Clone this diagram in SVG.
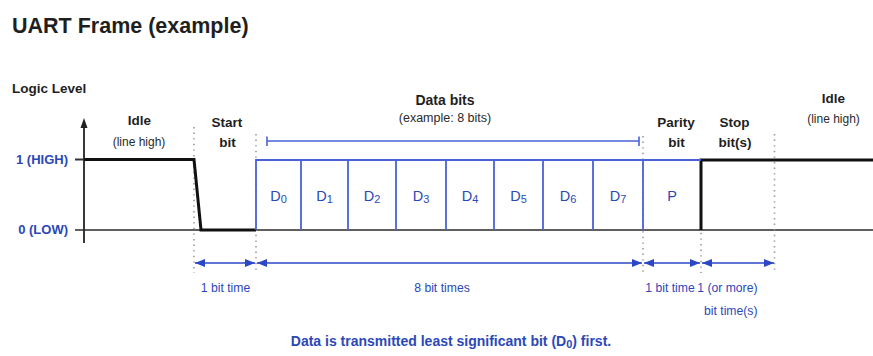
<svg xmlns="http://www.w3.org/2000/svg" width="873" height="356" viewBox="0 0 873 356">
  <style>
    text { font-family: "Liberation Sans", Arial, sans-serif; }
    .title { font-size: 21.5px; font-weight: bold; fill: #1f1f1f; }
    .axis-title { font-size: 13.5px; font-weight: bold; fill: #1f1f1f; }
    .lbl { font-size: 13.5px; font-weight: bold; fill: #1f1f1f; text-anchor: middle; }
    .sub { font-size: 12px; fill: #2a2a2a; text-anchor: middle; }
    .level { font-size: 13px; font-weight: bold; fill: #2b48b8; text-anchor: end; }
    .bit { font-size: 14.5px; fill: #2b48b8; text-anchor: middle; }
    .bit tspan.s { font-size: 11px; }
    .dim { font-size: 12.2px; fill: #2b48b8; text-anchor: middle; }
    .note { font-size: 14px; font-weight: bold; fill: #2b48b8; text-anchor: middle; }
    .sig { fill: none; stroke: #111; stroke-width: 3; stroke-linejoin: miter; }
    .base { stroke: #2a2a2a; stroke-width: 1.6; }
    .cell { fill: none; stroke: #4a62d8; stroke-width: 1.8; }
    .guide { stroke: #9a9a9a; stroke-width: 1.6; stroke-dasharray: 1.4 4.2; }
    .span { stroke: #2c47c6; stroke-width: 1.4; marker-start: url(#arrowL); marker-end: url(#arrowR); }
    .bracket { stroke: #4a62d8; stroke-width: 1.6; fill: none; }
  </style>
  <defs>
    <marker id="arrowR" viewBox="0 0 10 8" refX="10" refY="4" markerWidth="10" markerHeight="8" markerUnits="userSpaceOnUse" orient="auto">
      <path d="M0,0 L10,4 L0,8 Z" fill="#2c47c6"/>
    </marker>
    <marker id="arrowL" viewBox="0 0 10 8" refX="0" refY="4" markerWidth="10" markerHeight="8" markerUnits="userSpaceOnUse" orient="auto">
      <path d="M10,0 L0,4 L10,8 Z" fill="#2c47c6"/>
    </marker>
  </defs>

  <rect width="873" height="356" fill="#ffffff"/>

  <text class="title" x="12" y="33">UART Frame (example)</text>
  <text class="axis-title" x="12" y="93">Logic Level</text>

  <!-- vertical axis with level ticks -->
  <g id="axis">
    <line x1="84" y1="126" x2="84" y2="243" stroke="#222" stroke-width="1.8"/>
    <path d="M84,118 L80.5,128 L87.5,128 Z" fill="#222"/>
    <line x1="75" y1="159.5" x2="84" y2="159.5" stroke="#333" stroke-width="2"/>
    <line class="base" x1="75" y1="230" x2="873" y2="230"/>
    <text class="level" x="68" y="164">1 (HIGH)</text>
    <text class="level" x="68" y="234">0 (LOW)</text>
  </g>

  <!-- field boundaries -->
  <g id="guides">
    <line class="guide" x1="194" y1="127" x2="194" y2="273"/>
    <line class="guide" x1="256" y1="134" x2="256" y2="273"/>
    <line class="guide" x1="643" y1="136" x2="643" y2="273"/>
    <line class="guide" x1="701" y1="160" x2="701" y2="273"/>
    <line class="guide" x1="774.5" y1="134" x2="774.5" y2="273"/>
  </g>

  <!-- idle + start bit + stop/idle drive levels -->
  <g id="signal">
    <path class="sig" d="M84,159.5 H194 L201,230 H256"/>
    <path class="sig" d="M701,230 V160 H873"/>
  </g>

  <g id="idle-left">
    <text class="lbl" x="139.5" y="125">Idle</text>
    <text class="sub" x="139" y="146">(line high)</text>
  </g>
  <g id="start-bit">
    <text class="lbl" x="227" y="126.5">Start</text>
    <text class="lbl" x="227.5" y="146.5">bit</text>
  </g>

  <g id="data-bits">
    <text class="lbl" x="445" y="105" style="font-size:14px">Data bits</text>
    <text class="sub" x="445" y="121.5" style="font-size:12.5px">(example: 8 bits)</text>
    <path class="bracket" d="M267,136.5 V146 M267,141 H639 M639,136.5 V146"/>
    <path class="cell" d="M256,230 V160 H701 M301,160 V230 M348,160 V230 M396,160 V230 M446,160 V230 M494,160 V230 M543,160 V230 M593,160 V230 M643,160 V230"/>
    <text class="bit" x="278.5" y="201">D<tspan class="s" dy="2">0</tspan></text>
    <text class="bit" x="324.5" y="201">D<tspan class="s" dy="2">1</tspan></text>
    <text class="bit" x="372" y="201">D<tspan class="s" dy="2">2</tspan></text>
    <text class="bit" x="421" y="201">D<tspan class="s" dy="2">3</tspan></text>
    <text class="bit" x="470" y="201">D<tspan class="s" dy="2">4</tspan></text>
    <text class="bit" x="518.5" y="201">D<tspan class="s" dy="2">5</tspan></text>
    <text class="bit" x="568" y="201">D<tspan class="s" dy="2">6</tspan></text>
    <text class="bit" x="618" y="201">D<tspan class="s" dy="2">7</tspan></text>
  </g>

  <g id="parity-bit">
    <text class="lbl" x="676" y="126.5">Parity</text>
    <text class="lbl" x="676.5" y="146.5">bit</text>
    <text class="bit" x="672" y="201">P</text>
  </g>
  <g id="stop-bits">
    <text class="lbl" x="734.5" y="126.5">Stop</text>
    <text class="lbl" x="735" y="146.5">bit(s)</text>
  </g>
  <g id="idle-right">
    <text class="lbl" x="833.5" y="103">Idle</text>
    <text class="sub" x="833.5" y="123">(line high)</text>
  </g>

  <!-- bit-time spans -->
  <g id="connectors">
    <line class="span" x1="195" y1="263" x2="255" y2="263"/>
    <line class="span" x1="257" y1="263" x2="642" y2="263"/>
    <line class="span" x1="644" y1="263" x2="700" y2="263"/>
    <line class="span" x1="702" y1="263" x2="774" y2="263"/>
  </g>
  <g id="span-labels">
    <text class="dim" x="225.5" y="292">1 bit time</text>
    <text class="dim" x="442" y="292">8 bit times</text>
    <text class="dim" x="670" y="292">1 bit time</text>
    <text class="dim" x="757.5" y="292" style="text-anchor:end">1 (or more)</text>
    <text class="dim" x="757.5" y="315" style="text-anchor:end">bit time(s)</text>
  </g>

  <text class="note" x="451" y="346">Data is transmitted least significant bit (D<tspan style="font-size:11px" dy="2">0</tspan><tspan dy="-2">) first.</tspan></text>
</svg>
